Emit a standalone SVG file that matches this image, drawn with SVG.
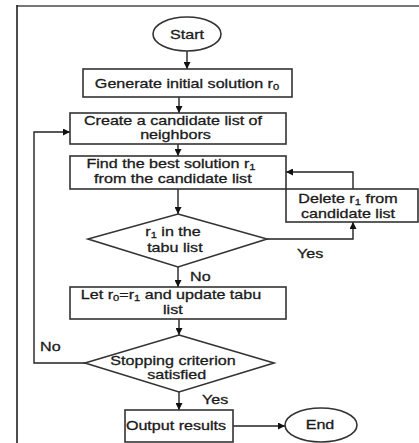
<svg xmlns="http://www.w3.org/2000/svg" width="419" height="443" viewBox="0 0 419 443">
  <defs>
    <marker id="arr" viewBox="0 0 10 10" refX="10" refY="5" markerWidth="7" markerHeight="7" markerUnits="userSpaceOnUse" orient="auto">
      <path d="M0,0 L10,5 L0,10 Z" fill="#111"/>
    </marker>
    <style>
      .box { fill: #fff; stroke: #333; stroke-width: 1.6; }
      .line { fill: none; stroke: #222; stroke-width: 1.4; }
      text { font-family: "Liberation Sans", Arial, sans-serif; font-size: 13px; fill: #1a1a1a; stroke: #1a1a1a; stroke-width: 0.3; text-anchor: middle; }
      .lbl { text-anchor: start; }
      .sub { font-size: 9px; }
    </style>
  </defs>
  <rect width="419" height="443" fill="#fff"/>

  <!-- frame -->
  <line x1="17" y1="6" x2="419" y2="6" stroke="#777" stroke-width="2"/>
  <line x1="17" y1="5" x2="17" y2="443" stroke="#111" stroke-width="1.5"/>

  <!-- connectors -->
  <g id="connectors">
    <line class="line" x1="187" y1="51" x2="187" y2="69" marker-end="url(#arr)"/>
    <line class="line" x1="179" y1="97" x2="179" y2="113" marker-end="url(#arr)"/>
    <line class="line" x1="178" y1="144" x2="178" y2="156" marker-end="url(#arr)"/>
    <line class="line" x1="178" y1="189" x2="178" y2="214" marker-end="url(#arr)"/>
    <polyline class="line" points="267,239 353,239 353,222" marker-end="url(#arr)"/>
    <polyline class="line" points="353,189 353,172 286,172" marker-end="url(#arr)"/>
    <line class="line" x1="178" y1="267" x2="178" y2="287" marker-end="url(#arr)"/>
    <line class="line" x1="179" y1="319" x2="179" y2="335" marker-end="url(#arr)"/>
    <polyline class="line" points="85,363 34,363 34,132 70,132" marker-end="url(#arr)"/>
    <line class="line" x1="179" y1="392" x2="179" y2="410" marker-end="url(#arr)"/>
    <line class="line" x1="233" y1="426" x2="285" y2="426" marker-end="url(#arr)"/>
    <g transform="translate(297 0) scale(1.24 1)"><text class="lbl" x="0" y="258">Yes</text></g>
    <g transform="translate(190 0) scale(1.24 1)"><text class="lbl" x="0" y="281">No</text></g>
    <g transform="translate(40 0) scale(1.24 1)"><text class="lbl" x="0" y="351">No</text></g>
    <g transform="translate(202 0) scale(1.24 1)"><text class="lbl" x="0" y="404">Yes</text></g>
  </g>

  <g id="start">
    <ellipse class="box" cx="187" cy="34" rx="34" ry="17"/>
    <g transform="translate(187 0) scale(1.24 1)"><text x="0" y="39">Start</text></g>
  </g>

  <g id="generate">
    <rect class="box" x="83" y="69" width="209" height="28"/>
    <g transform="translate(187 0) scale(1.24 1)"><text x="0" y="88">Generate initial solution r<tspan class="sub" dy="2">0</tspan></text></g>
  </g>

  <g id="create">
    <rect class="box" x="70" y="113" width="216" height="31"/>
    <g transform="translate(173 0) scale(1.24 1)">
      <text x="0" y="125">Create a candidate list of</text>
      <text x="2" y="139">neighbors</text>
    </g>
  </g>

  <g id="find">
    <rect class="box" x="70" y="156" width="216" height="33"/>
    <g transform="translate(171 0) scale(1.24 1)">
      <text x="0" y="168">Find the best solution r<tspan class="sub" dy="2">1</tspan></text>
      <text x="1.5" y="183">from the candidate list</text>
    </g>
  </g>

  <g id="delete">
    <rect class="box" x="286" y="189" width="132" height="33"/>
    <g transform="translate(348 0) scale(1.24 1)">
      <text x="0" y="203">Delete r<tspan class="sub" dy="2">1</tspan><tspan dy="-2"> from</tspan></text>
      <text x="0" y="218">candidate list</text>
    </g>
  </g>

  <g id="tabu-check">
    <polygon class="box" points="178,214 267,239 178,267 88,239"/>
    <g transform="translate(173 0) scale(1.24 1)">
      <text x="0" y="236">r<tspan class="sub" dy="2">1</tspan><tspan dy="-2"> in the</tspan></text>
      <text x="1.5" y="252">tabu list</text>
    </g>
  </g>

  <g id="update">
    <rect class="box" x="70" y="287" width="216" height="32"/>
    <g transform="translate(171 0) scale(1.24 1)">
      <text x="0" y="299">Let r<tspan class="sub" dy="2">0</tspan><tspan dy="-2">=r</tspan><tspan class="sub" dy="2">1</tspan><tspan dy="-2"> and update tabu</tspan></text>
      <text x="1.5" y="314">list</text>
    </g>
  </g>

  <g id="stop-check">
    <polygon class="box" points="179,335 274,363 179,392 85,363"/>
    <g transform="translate(173 0) scale(1.24 1)">
      <text x="0" y="365">Stopping criterion</text>
      <text x="3" y="379">satisfied</text>
    </g>
  </g>

  <g id="output">
    <rect class="box" x="125" y="410" width="108" height="32"/>
    <g transform="translate(176 0) scale(1.24 1)"><text x="0" y="430">Output results</text></g>
  </g>

  <g id="end">
    <ellipse class="box" cx="321" cy="425" rx="36" ry="17"/>
    <g transform="translate(320 0) scale(1.24 1)"><text x="0" y="429">End</text></g>
  </g>
</svg>
